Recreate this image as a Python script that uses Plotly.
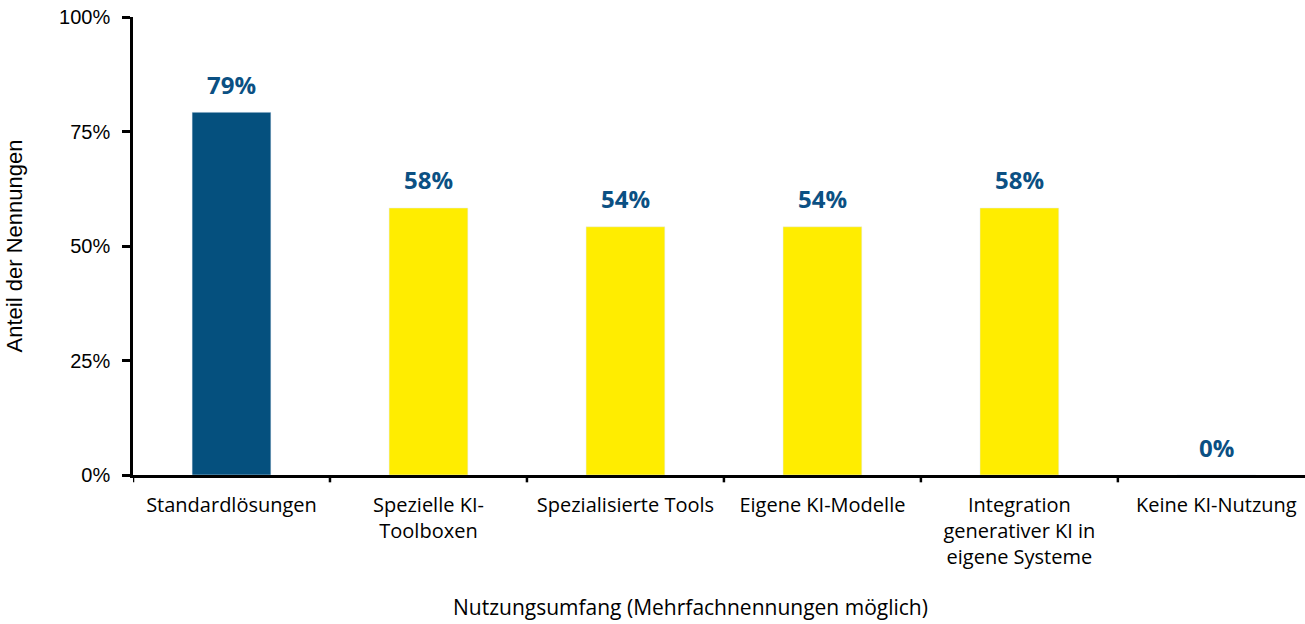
import plotly.graph_objects as go

## Data

categories = ["Standardlösungen", "Spezielle KI-<br>Toolboxen", "Spezialisierte Tools",
              "Eigene KI-Modelle", "Integration<br>generativer KI in<br>eigene Systeme",
              "Keine KI-Nutzung"]
values = [79.2, 58.3, 54.2, 54.2, 58.3, 0.0]
labels = ["79%", "58%", "54%", "54%", "58%", "0%"]
bar_colors = ["#05507E", "#FFED00", "#FFED00", "#FFED00", "#FFED00", "#FFED00"]
y_ticks = [0, 25, 50, 75, 100]
y_ticktext = ["0%", "25%", "50%", "75%", "100%"]

label_col = "#0B5083"
font_body = "Open Sans, Noto Sans, sans-serif"
font_axis = "Liberation Sans, Arial, sans-serif"

## Plotting

fig = go.Figure()
fig.add_trace(go.Bar(x=list(range(len(categories))), y=values,
                     marker_color=bar_colors, width=0.4,
                     showlegend=False, hoverinfo="skip"))

# value labels above bars
for i, v in enumerate(values):
    fig.add_annotation(x=i, y=v, text="<b>" + labels[i] + "</b>", showarrow=False,
                       yanchor="middle", yshift=28,
                       font=dict(family=font_body, size=24, color=label_col))

fig.update_xaxes(range=[-0.5, 5.45], tickmode="array",
                 tickvals=list(range(len(categories))), ticktext=categories,
                 showline=True, linecolor="black", linewidth=2.5,
                 ticks="outside", ticklen=10, tickcolor="rgba(0,0,0,0)",
                 showgrid=False, zeroline=False,
                 tickfont=dict(family=font_body, size=20, color="black"))
# category boundary ticks
for b in [-0.5, 0.5, 1.5, 2.5, 3.5, 4.5]:
    fig.add_shape(type="line", xref="x", yref="paper", x0=b, x1=b, y0=0, y1=-0.016,
                  line=dict(color="black", width=2.5))

fig.update_yaxes(range=[0, 100], tickmode="array", tickvals=y_ticks, ticktext=y_ticktext,
                 showline=True, linecolor="black", linewidth=2.5,
                 ticks="outside", ticklen=8, tickwidth=2.5, tickcolor="black",
                 ticklabelstandoff=8,
                 showgrid=False, zeroline=False, ticklabeloverflow="allow",
                 tickfont=dict(family=font_axis, size=20, color="black"),
                 title=dict(text="Anteil der Nennungen", standoff=31,
                            font=dict(family=font_axis, size=22, color="black")))

fig.add_annotation(xref="paper", yref="paper", x=(690 - 133) / 1172, y=-0.288,
                   xanchor="center", yanchor="middle",
                   text="Nutzungsumfang (Mehrfachnennungen möglich)", showarrow=False,
                   font=dict(family=font_body, size=21, color="black"))

fig.update_layout(width=1305, height=624, plot_bgcolor="white", paper_bgcolor="white",
                  margin=dict(l=133, r=0, t=17, b=149), bargap=0.6)

# drop the default page margin so the figure fills the window
fig.write_html("out.html", config={"displayModeBar": False},
               post_script="document.body.style.margin='0';")
